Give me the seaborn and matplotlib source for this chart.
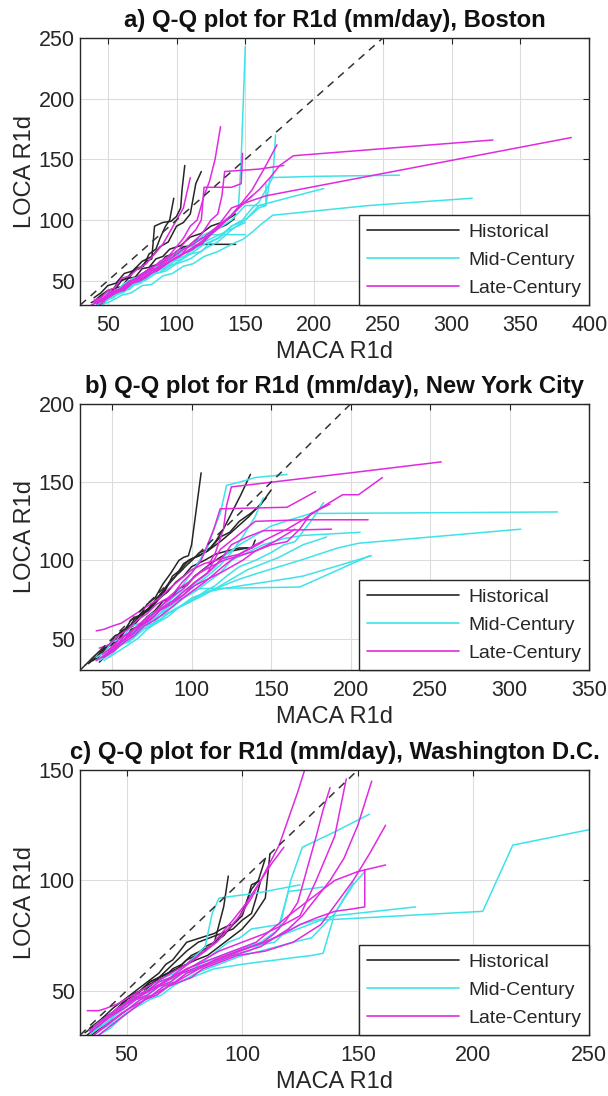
import matplotlib
matplotlib.use("Agg")
import matplotlib.pyplot as plt
import seaborn as sns
import pandas as pd
from matplotlib.lines import Line2D

sns.set_theme(style="white")
plt.rcParams['font.family'] = ['Liberation Sans', 'DejaVu Sans']

# ---------------- Panel a: Boston ----------------
a_hist = [
    ([38,44,48,53,58,64,68,73,78,82,84,90,96,100,103,104,106], [32,35,40,41,50,52,58,60,66,68,95,98,99,103,110,125,145]),
    ([40,45,50,56,60,66,70,76,80,85,88,92,95,98], [33,38,42,44,50,53,60,62,72,76,85,95,100,118]),
    ([42,48,52,58,62,67,72,78,82,88,92,98,105,112,120,143], [31,34,38,40,46,47,54,56,62,64,70,72,78,79,80,80]),
    ([44,50,55,60,65,70,75,80,85,90,95,103,110,118,125,135,143], [35,37,44,45,52,53,60,61,68,70,76,79,86,89,95,99,105]),
    ([45,50,56,61,66,72,78,84,90,95,100,108,115,122,130,136,142], [30,35,40,42,50,51,58,60,66,68,74,78,84,86,93,96,101]),
    ([40,45,50,56,62,68,75,82,88,94,100,105,110,114,118], [36,40,46,48,56,58,66,70,78,82,95,98,105,130,140]),
]
a_mid = [
    ([40,46,52,58,65,70,78,84,90,98,105,112,120,128,135,140,145,147,150], [32,34,40,42,50,49,58,60,66,70,76,80,88,92,100,104,110,150,243]),
    ([42,48,55,61,68,74,80,88,95,102,110,118,125,132,140,148,155,160,165,170,172], [30,33,38,40,46,48,55,57,62,66,72,74,82,86,95,100,110,115,125,135,170]),
    ([45,51,58,64,70,77,85,92,100,110,120,130,140,150,160,165,168,200,262], [33,35,40,43,50,51,58,61,68,72,80,85,95,100,110,112,135,136,137]),
    ([40,47,55,62,70,77,85,92,100,110,120,130,140,150,160,180,207], [31,33,40,41,48,50,56,58,64,68,76,82,92,100,112,118,126]),
    ([45,52,60,67,75,82,90,97,105,112,120,130,140,148,155,162,170,240,315], [30,33,38,40,46,47,54,56,62,64,70,74,80,84,90,97,104,112,118]),
    ([42,48,55,62,68,75,82,88,95,102,110,118,125,132,140,145,150,165,165], [33,36,42,44,52,53,60,62,68,72,80,84,90,94,100,106,112,112,130]),
    ([40,45,50,56,62,68,75,82,88,94,100,110,120,135,150], [32,35,40,41,48,50,56,58,66,68,74,78,82,90,98]),
    ([48,54,60,66,72,78,85,92,98,104,110,118,125,135,150], [34,36,42,43,50,52,58,60,66,68,74,80,88,88,88]),
]
a_late = [
    ([40,46,52,58,65,72,78,85,92,98,105,112,120,130,140,152,165,387], [32,35,40,42,48,52,58,60,66,70,76,80,86,95,110,115,120,168]),
    ([42,48,55,62,68,75,82,88,95,102,110,118,125,132,140,150,160,168,175,185,330], [31,35,40,43,50,52,58,61,66,70,76,82,88,95,104,115,125,135,145,153,166]),
    ([38,44,50,56,62,68,75,82,88,94,100,105,110,115,120,124,128,132], [30,33,38,40,46,50,56,60,66,70,78,85,95,100,120,132,150,177]),
    ([40,46,52,59,66,73,80,88,95,102,110,118,125,132,140,148,155,165,173], [33,35,41,43,50,52,58,61,66,70,76,80,88,96,104,115,125,145,162]),
    ([44,50,56,63,70,77,84,91,98,104,110,118,125,130,133,135,160,178], [30,36,40,44,50,52,58,62,68,72,80,88,100,105,120,140,142,145]),
    ([42,48,55,62,68,74,80,88,95,102,108,114,118,120,140,147,148], [32,36,42,44,50,54,60,64,70,76,85,92,100,127,127,130,155]),
    ([40,45,50,55,60,66,72,78,84,90,95,100,105,110], [34,36,42,44,52,54,60,64,72,80,90,100,110,135]),
    ([45,50,55,62,68,74,80,86,92,98,105,112,118,124,130,138,145,155], [33,36,40,42,48,50,56,58,64,68,72,76,82,88,95,102,110,120]),
]

# ---------------- Panel b: New York City ----------------
b_hist = [
    ([33,37,42,47,52,57,62,67,72,77,82,87,92,95,98,100,106], [33,37,42,44,52,54,62,64,72,76,85,92,100,102,103,110,156]),
    ([35,40,45,50,55,60,65,70,75,80,85,90,95,100,105,110,115,120,125,131,137], [34,38,44,46,54,56,64,66,72,76,84,90,98,101,103,106,112,120,130,142,155]),
    ([38,43,48,53,58,63,68,73,78,83,88,93,98,104,110,118,125,136,147], [36,40,46,48,56,58,66,68,76,80,90,94,100,103,106,112,118,128,140]),
    ([40,45,50,55,60,65,70,75,80,85,90,95,100,108,115,122,130,138,140], [37,42,48,50,58,60,66,70,76,80,86,90,96,100,104,106,108,108,113]),
    ([42,47,52,57,62,67,72,77,82,87,92,97,102,107,112,118,125,130,135], [35,40,46,48,56,58,64,68,74,76,82,84,90,94,98,102,106,107,108]),
    ([36,41,46,51,56,62,68,74,80,86,92,98,105,112,118,124,130,137,143,150], [35,39,45,48,55,58,66,70,78,86,92,98,105,108,115,118,125,130,135,145]),
]
b_mid = [
    ([40,45,50,56,62,68,75,82,88,94,100,108,115,122,130,140,150,162,175,330], [38,41,48,50,58,60,66,70,74,80,84,90,96,104,110,116,122,126,130,131]),
    ([42,48,55,61,68,74,80,88,95,102,110,120,130,142,155,168,180,192,205,307], [36,40,46,48,56,58,64,68,72,76,80,84,88,92,96,100,104,108,111,120]),
    ([44,50,56,63,70,77,85,92,100,110,120,132,145,158,170,180,190,213], [38,42,48,50,58,60,66,70,76,80,82,84,86,88,90,93,96,103]),
    ([45,50,55,60,65,70,75,80,85,90,95,100,105,168,190,212], [36,40,46,48,55,58,62,66,70,74,76,80,82,83,93,103]),
    ([40,46,52,58,65,72,78,84,90,95,100,105,110,114,118,122,130,140,160], [36,40,46,50,56,60,66,72,78,85,92,100,108,120,130,148,150,153,155]),
    ([42,48,55,62,68,74,80,88,95,102,110,118,125,135,145,158,170,206], [37,40,47,50,57,60,66,70,76,80,86,92,100,105,110,114,116,118]),
    ([44,50,56,63,70,78,85,92,100,108,115,122,130,140,150,158,165,175,183], [38,42,48,50,56,60,64,70,74,80,84,90,96,100,105,110,112,125,137]),
    ([46,52,58,64,70,76,82,88,95,102,110,118,125,132,140,145], [40,44,50,54,60,62,68,72,78,84,90,97,105,115,128,140]),
    ([48,54,60,66,72,78,85,92,100,108,115,125,135,145,155,170,185], [38,42,46,50,56,60,66,70,74,78,82,88,94,98,102,110,115]),
]
b_late = [
    ([44,49,55,61,68,74,80,87,95,102,110,115,120,122,125,150,200,257], [40,44,50,54,60,64,70,76,82,90,96,105,120,135,147,150,156,163]),
    ([45,51,58,64,70,77,85,92,100,108,115,122,130,140,150,160,170,182,195,205,220], [38,42,48,52,58,62,68,74,80,86,92,98,104,110,115,120,126,134,142,142,153]),
    ([44,50,56,62,68,74,80,87,95,102,110,114,118,140,170,211], [38,42,48,52,58,62,68,72,78,86,92,100,107,125,126,126]),
    ([46,52,58,64,70,76,82,88,95,102,110,118,125,135,145,188], [40,44,50,54,60,64,70,74,80,86,92,100,110,115,119,120]),
    ([42,48,54,60,66,72,78,85,92,98,105,112,120,130,140,150,160,168,175,187], [44,46,52,56,62,66,72,76,82,86,92,96,100,103,106,110,112,120,130,136]),
    ([40,46,52,58,64,70,76,82,88,94,100,106,110,114,118,160,178], [36,40,46,50,56,60,66,72,78,86,92,100,110,120,133,134,144]),
    ([48,53,58,64,70,76,82,88,95,102,110,118,125,132,140,152,165], [42,46,52,56,62,66,70,74,78,84,88,92,96,100,106,112,120]),
    ([40,45,50,56,62,68,74,80,86,93,100,108,115,122,130,138,145], [55,56,58,60,64,68,72,76,82,88,94,98,100,102,104,108,112]),
]

# ---------------- Panel c: Washington D.C. ----------------
c_hist = [
    ([33,37,40,44,48,52,56,60,64,68,72,76,80,84,88,90,92,94], [30,33,36,40,44,46,50,52,56,58,60,64,66,70,72,80,88,102]),
    ([34,38,42,46,50,54,58,62,66,70,74,78,82,86,90,94,98,101,104,107,110], [32,34,38,42,46,48,52,54,56,60,62,66,68,70,74,78,82,88,96,100,110]),
    ([35,40,44,48,52,56,60,64,68,72,76,80,84,88,92,96,100,102,104,108], [30,34,38,42,46,48,52,56,58,60,62,66,68,72,75,80,84,90,98,100]),
    ([36,40,44,48,52,56,60,64,68,72,76,81,86,91,96,100,104,106,108], [33,36,40,44,48,50,54,56,60,64,68,72,74,76,78,82,85,92,100]),
    ([32,36,40,44,48,52,56,60,64,68,72,76,80,85,90,95,100,105,110,112], [31,34,38,40,44,48,50,54,56,58,60,62,64,66,70,74,78,84,92,112]),
    ([34,39,44,49,54,59,64,67,70,73,76,79,82,85,88,91,95], [33,37,42,46,50,54,58,62,64,68,72,73,74,75,76,78,80]),
]
c_mid = [
    ([34,39,44,49,54,59,64,69,74,79,84,89,94,99,104,109,114,119,124,129,134,204,217,250], [32,35,40,44,48,50,54,56,58,60,62,64,66,68,70,72,74,76,78,80,82,86,116,123]),
    ([36,41,46,51,56,61,66,71,76,81,86,91,96,103,110,118,125,132,140,175], [30,34,38,42,46,48,52,54,58,60,62,64,66,68,72,76,80,82,84,88]),
    ([36,41,46,51,56,61,66,71,76,81,86,91,96,102,108,112,116,121,126,140,155], [32,35,40,44,48,50,54,56,60,62,64,66,68,70,72,75,78,100,115,122,130]),
    ([34,39,44,49,54,59,64,69,74,79,84,89,94,99,104,110,116,120,135], [30,34,38,42,46,48,52,54,58,60,64,68,72,74,78,79,80,95,97]),
    ([38,43,48,53,58,63,68,73,78,83,88,94,100,107,115,122,130,135,140,148,153], [30,33,38,42,46,48,52,54,56,58,60,61,62,63,64,65,66,67,85,98,104]),
    ([34,39,44,49,54,59,64,69,74,79,84,89,94,99,104,109,114,118,122], [32,35,40,43,46,48,52,54,58,60,62,64,66,68,70,71,72,76,80]),
    ([36,41,46,51,56,61,66,71,76,80,84,87,90,97,105,115,125], [34,38,42,45,48,52,56,58,62,66,70,85,92,93,94,96,98]),
    ([40,45,50,55,60,65,70,75,80,85,90,95,100,108,115,122,130,140,148], [33,36,40,43,46,48,52,55,58,60,62,64,66,68,70,72,74,85,99]),
]
c_late = [
    ([34,39,44,49,54,59,64,69,74,79,84,89,94,99,104,108,112,116,120,124,127], [32,36,40,44,48,50,54,56,60,64,68,72,78,84,92,100,108,116,128,140,150]),
    ([36,41,46,51,56,61,66,71,76,81,86,91,96,102,108,114,120,126,132,138,144,150,156], [30,34,38,42,46,48,52,54,58,60,62,64,66,68,70,74,78,84,92,100,110,125,145]),
    ([38,43,48,53,58,63,68,73,78,83,88,93,98,104,110,116,122,128,134,141,148,155,162], [30,34,38,42,46,48,52,54,56,60,62,64,66,67,68,70,72,76,80,90,100,112,125]),
    ([36,41,46,51,56,61,66,71,76,81,86,91,96,101,106,113,120,130,140,150,162], [34,38,42,45,48,51,54,57,60,62,64,66,68,70,72,78,84,92,100,104,107]),
    ([34,39,44,49,54,59,64,69,74,79,84,89,94,99,104,109,114,119,124,128,132,135,138], [31,35,39,42,46,48,52,54,58,60,62,64,66,68,70,72,76,82,90,105,120,132,142]),
    ([38,43,48,53,58,63,68,73,78,83,88,93,98,104,110,118,125,132,140,147,153,153], [32,36,40,43,46,49,52,55,58,61,64,66,68,70,72,76,80,83,86,87,88,105]),
    ([40,45,50,55,60,65,70,75,80,85,90,95,100,105,110,118,125,132,140,145], [36,40,44,47,50,53,56,59,62,65,68,70,72,74,76,80,84,100,120,146]),
    ([33,38,41,46,51,56,61,66,71,76,81,86,91,96,102,108,113,118], [41,41,42,44,47,50,53,56,59,62,66,70,76,82,90,100,108,115]),
]

periods = ["Historical", "Mid-Century", "Late-Century"]
colors = {"Historical": "#262626", "Mid-Century": "#3de3e8", "Late-Century": "#e02ae0"}

panels = [
    dict(title="a) Q-Q plot for R1d (mm/day), Boston", data=(a_hist, a_mid, a_late),
         xlim=(30, 400), ylim=(30, 250), xticks=[50,100,150,200,250,300,350,400], yticks=[50,100,150,200,250], diag=250),
    dict(title="b) Q-Q plot for R1d (mm/day), New York City", data=(b_hist, b_mid, b_late),
         xlim=(30, 350), ylim=(30, 200), xticks=[50,100,150,200,250,300,350], yticks=[50,100,150,200], diag=200),
    dict(title="c) Q-Q plot for R1d (mm/day), Washington D.C.", data=(c_hist, c_mid, c_late),
         xlim=(30, 250), ylim=(30, 150), xticks=[50,100,150,200,250], yticks=[50,100,150], diag=150),
]

def to_df(groups):
    rows = []
    for period, lines in zip(periods, groups):
        for i, (xs, ys) in enumerate(lines):
            for j, (xv, yv) in enumerate(zip(xs, ys)):
                rows.append(dict(x=xv, y=yv, period=period, line=f"{period}_{i}", order=j))
    return pd.DataFrame(rows)

fig = plt.figure(figsize=(6.08, 10.96), dpi=100)
positions = [
    [0.132, 0.7217, 0.837, 0.2436],
    [0.132, 0.3887, 0.837, 0.2427],
    [0.132, 0.0557, 0.837, 0.2417],
]

for pos, p in zip(positions, panels):
    ax = fig.add_axes(pos)
    df = to_df(p["data"])
    sns.lineplot(data=df, x="x", y="y", hue="period", units="line", estimator=None,
                 sort=False, palette=colors, hue_order=periods, linewidth=1.1,
                 ax=ax, legend=False, zorder=2)
    ax.plot([30, p["diag"]], [30, p["diag"]], linestyle=(0, (5, 4)), color="#333333",
            linewidth=1.1, zorder=3)
    ax.set_xlim(*p["xlim"])
    ax.set_ylim(*p["ylim"])
    ax.set_xticks(p["xticks"])
    ax.set_yticks(p["yticks"])
    ax.grid(True, color="#dcdcdc", linewidth=0.8)
    ax.set_axisbelow(True)
    ax.tick_params(direction="in", top=True, right=True, length=4, width=0.8,
                   colors="#262626", labelsize=15.5)
    ax.tick_params(axis="x", pad=7)
    ax.tick_params(axis="y", pad=4)
    for s in ax.spines.values():
        s.set_color("#262626")
        s.set_linewidth(1.0)
    ax.set_xlabel("MACA R1d", fontsize=17, color="#262626", labelpad=4)
    ax.set_ylabel("LOCA R1d", fontsize=17, color="#262626", labelpad=2)
    ax.set_title(p["title"], fontsize=17.2, fontweight="bold", pad=8, color="#111111")
    handles = [Line2D([0], [0], color=colors[k], linewidth=1.2) for k in periods]
    leg = ax.legend(handles, periods, loc="lower right", borderaxespad=0,
                    fontsize=14, handlelength=4.7, frameon=True, fancybox=False,
                    edgecolor="#262626", framealpha=1, borderpad=0.4, labelspacing=0.55,
                    handletextpad=0.5)
    leg.get_frame().set_linewidth(1.0)
    leg.set_zorder(5)

fig.savefig("out.png", dpi=100)
